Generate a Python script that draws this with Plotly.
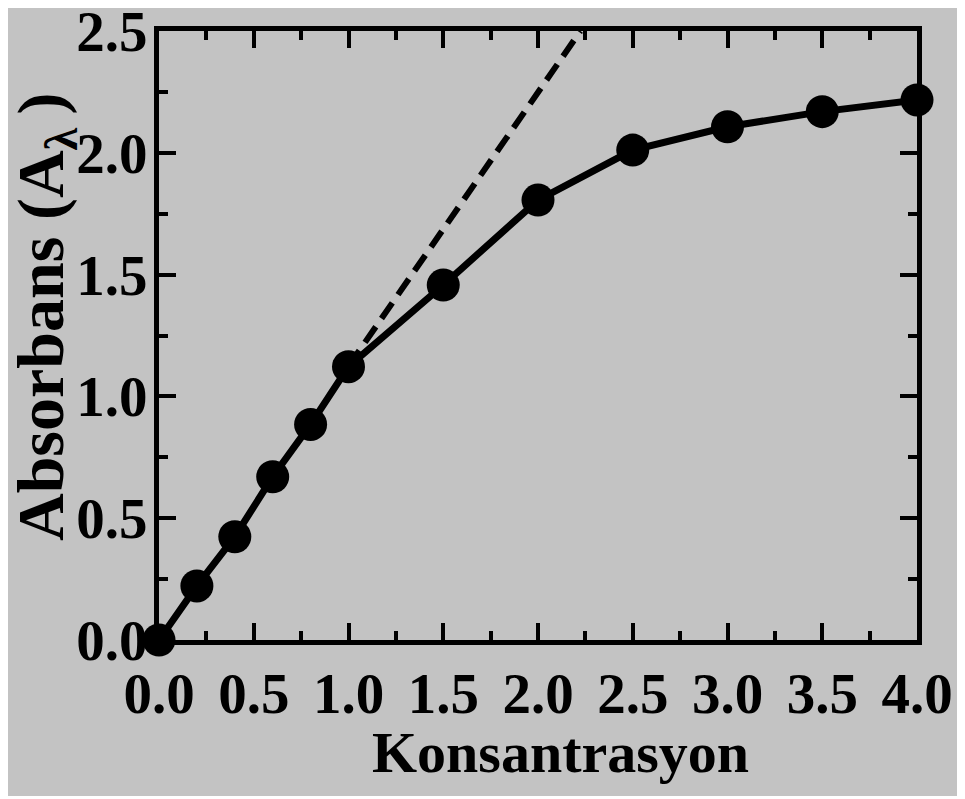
import plotly.graph_objects as go

# Data
konsantrasyon = [0.0, 0.2, 0.4, 0.6, 0.8, 1.0, 1.5, 2.0, 2.5, 3.0, 3.5, 4.0]
absorbans = [0.0, 0.222, 0.424, 0.670, 0.885, 1.122, 1.457, 1.806, 2.011, 2.107, 2.169, 2.217]

# Linear (Beer-Lambert) extrapolation, dashed
lineer_x = [1.0, 2.224]
lineer_y = [1.124, 2.5]

x_ticks = [0.0, 0.5, 1.0, 1.5, 2.0, 2.5, 3.0, 3.5, 4.0]
x_tick_labels = ["0.0", "0.5", "1.0", "1.5", "2.0", "2.5", "3.0", "3.5", "4.0"]
y_ticks = [0.0, 0.5, 1.0, 1.5, 2.0, 2.5]
y_tick_labels = ["0.0", "0.5", "1.0", "1.5", "2.0", "2.5"]

x_title = "Konsantrasyon"
y_title = "Absorbans (A<sub>λ</sub>\u2009)"

FONT = "Liberation Serif"
GRAY = "#c3c3c3"

# The page body adds an 8px offset; the figure covers the gray area of the picture
OFF = 8
W, H = 950, 788
L, R, T, B = 151, 41, 23, 156
pw, ph = W - L - R, H - T - B
y_bottom = H - B  # figure pixel row of y=0


def px_to_paper_x(px):
    return (px - OFF - L) / pw


def px_to_paper_y(py):
    return (y_bottom - (py - OFF)) / ph


fig = go.Figure()

fig.add_trace(go.Scatter(
    x=lineer_x, y=lineer_y, mode="lines",
    line=dict(color="black", width=6, dash="19px,10px"),
    cliponaxis=False, hoverinfo="skip", showlegend=False,
))

fig.add_trace(go.Scatter(
    x=konsantrasyon, y=absorbans, mode="lines+markers",
    line=dict(color="black", width=7),
    marker=dict(color="black", size=33, symbol="circle"),
    cliponaxis=False, showlegend=False,
))

axis_common = dict(
    showgrid=False, zeroline=False, automargin=False,
    showline=True, linecolor="black", linewidth=5, mirror="ticks",
    ticks="inside", ticklen=17, tickwidth=4, tickcolor="black",
    ticklabeloverflow="allow",
    tickfont=dict(family=FONT, size=57, color="black", weight="bold"),
)

fig.update_xaxes(
    range=[0, 4], tickvals=x_ticks, ticktext=x_tick_labels,
    minor=dict(dtick=0.25, ticks="inside", ticklen=9, tickwidth=4, tickcolor="black"),
    ticklabelstandoff=0,
    **axis_common,
)
fig.update_yaxes(
    range=[0, 2.5], tickvals=y_ticks, ticktext=y_tick_labels,
    minor=dict(dtick=0.25, ticks="inside", ticklen=9, tickwidth=4, tickcolor="black"),
    ticklabelstandoff=-5,
    **axis_common,
)

fig.add_annotation(
    text=x_title, xref="paper", yref="paper",
    x=px_to_paper_x(560), y=px_to_paper_y(752),
    xanchor="center", yanchor="middle", showarrow=False,
    font=dict(family=FONT, size=58, color="black", weight="bold"),
)
fig.add_annotation(
    text=y_title, xref="paper", yref="paper",
    x=px_to_paper_x(45), y=px_to_paper_y(317), textangle=-90,
    xanchor="center", yanchor="middle", showarrow=False,
    font=dict(family=FONT, size=66, color="black", weight="bold"),
)

fig.update_layout(
    width=W, height=H,
    margin=dict(l=L, r=R, t=T, b=B, pad=0, autoexpand=False),
    paper_bgcolor=GRAY, plot_bgcolor=GRAY,
    showlegend=False,
)

fig.write_html("out.html")
